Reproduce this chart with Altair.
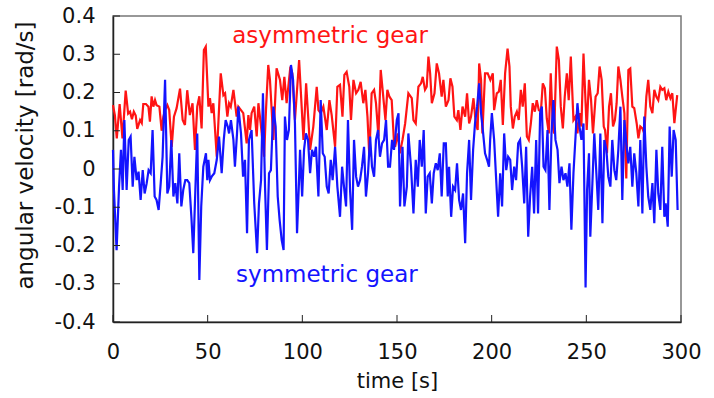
import altair as alt
import pandas as pd

# ---------------- data ----------------
x_ticks = [0, 50, 100, 150, 200, 250, 300]
y_ticks = [-0.4, -0.3, -0.2, -0.1, 0, 0.1, 0.2, 0.3, 0.4]
series_names = ["asymmetric gear", "symmetric gear"]
series_colors = ["#ff1414", "#1414ff"]

# (time [s], angular velocity [rad/s])
asym = [
    (0, 0.167), (1, 0.14), (2, 0.08), (3.5, 0.17), (5, 0.08), (6.7, 0.205), (8, 0.145), (9, 0.15),
    (10, 0.13), (11, 0.15), (12, 0.14), (12.8, 0.105), (14.3, 0.128), (15.2, 0.12), (16, 0.17),
    (17.4, 0.17), (18.7, 0.163), (19.5, 0.124), (20.4, 0.19), (21.3, 0.163), (22.2, 0.18), (23, 0.167),
    (24.5, 0.163), (25.7, 0.10), (26.6, 0.137), (27.5, 0.154), (28.7, 0.167), (29.7, 0.154), (31, 0.058),
    (32.2, 0.137), (33.6, 0.159), (35.4, 0.21), (36.8, 0.128), (38, 0.115), (39.2, 0.206), (40.6, 0.141),
    (42, 0.172), (43.3, 0.05), (44.5, 0.163), (45.6, 0.19), (46.8, 0.106), (48, 0.311), (49, 0.32),
    (50.4, 0.163), (51.2, 0.185), (52.1, 0.146), (53.0, 0.172), (54.8, 0.032), (56.9, 0.25), (58.3, 0.193),
    (59.2, 0.198), (60.4, 0.137), (61.3, 0.172), (62.2, 0.163), (63.6, 0.207), (65.3, 0.137), (66.2, 0.163),
    (67.6, 0.154), (68.8, 0.146), (70.6, 0.067), (71.5, 0.141), (72.4, 0.102), (73.2, 0.146), (74.6, 0.163),
    (75.9, 0.085), (76.8, 0.172), (78.0, 0.119), (79.8, 0.032), (80.8, 0.154), (82.0, 0.272), (82.9, 0.233),
    (84.7, 0.076), (86.4, 0.263), (88.2, 0.233), (89.4, 0.18), (90.5, 0.241), (91.7, 0.172), (93.7, 0.268),
    (94.7, 0.25), (96.1, 0.128), (98.3, 0.285), (100.6, 0.076), (102.0, 0.224), (103.2, 0.128), (104.1, 0.05),
    (105.8, 0.111), (107.6, 0.215), (108.5, 0.154), (109.7, 0.146), (111.1, 0.163), (112.9, 0.102),
    (114.3, 0.18), (115.5, 0.141), (117.3, 0.058), (118.5, 0.215), (119.9, 0.22), (121.2, 0.137),
    (122.2, 0.246), (123.4, 0.254), (124.8, 0.215), (125.7, 0.128), (127.0, 0.233), (128.4, 0.198),
    (129.6, 0.207), (130.8, 0.228), (132.2, 0.172), (133.3, 0.207), (134.4, 0.137), (135.4, 0.032),
    (136.6, 0.198), (137.9, 0.207), (138.9, 0.172), (140.2, 0.085), (141.4, 0.259), (142.4, 0.207),
    (143.9, 0.128), (144.9, 0.207), (146.0, 0.189), (147.2, 0.18), (148.4, 0.071), (149.0, 0.058),
    (150.4, 0.093), (151.5, 0.041), (152.9, 0.076), (154.3, 0.119), (156.0, 0.198), (157.8, 0.185),
    (158.7, 0.128), (159.9, 0.119), (161.3, 0.215), (162.7, 0.224), (163.6, 0.241), (164.8, 0.207),
    (165.7, 0.215), (166.6, 0.294), (167.5, 0.25), (168.4, 0.172), (169.8, 0.198), (171.0, 0.276),
    (172.2, 0.25), (173.6, 0.189), (174.5, 0.233), (175.8, 0.163), (177.2, 0.18), (178.2, 0.237),
    (179.3, 0.215), (180.3, 0.137), (181.6, 0.128), (182.4, 0.154), (183.5, 0.102), (184.6, 0.163),
    (186.0, 0.137), (187.0, 0.198), (188.1, 0.119), (189.1, 0.137), (190.4, 0.185), (191.6, 0.119),
    (192.6, 0.102), (193.4, 0.276), (194.4, 0.233), (195.1, 0.093), (196.5, 0.25), (197.9, 0.25),
    (199.3, 0.233), (200.6, 0.25), (201.3, 0.154), (202.7, 0.198), (203.8, 0.202), (204.8, 0.233),
    (205.9, 0.115), (207.1, 0.25), (208.4, 0.315), (209.4, 0.268), (210.1, 0.163), (211.2, 0.106),
    (212.2, 0.137), (213.3, 0.15), (214.3, 0.128), (215.4, 0.207), (216.4, 0.163), (217.5, 0.224),
    (218.6, 0.085), (219.6, 0.076), (220.7, 0.119), (221.7, 0.172), (222.8, 0.15), (223.8, 0.18),
    (224.9, 0.154), (226.0, 0.15), (227.0, 0.224), (228.1, 0.211), (229.1, 0.132), (230.2, 0.093),
    (231.2, 0.25), (232.3, 0.111), (233.0, 0.093), (234.4, 0.32), (235.5, 0.285), (236.5, 0.163),
    (237.6, 0.106), (238.6, 0.189), (239.7, 0.25), (240.7, 0.18), (241.8, 0.294), (243.2, 0.128),
    (244.3, 0.137), (245.3, 0.093), (246.4, 0.146), (247.4, 0.111), (248.5, 0.302), (250.2, 0.102),
    (251.4, 0.233), (252.5, 0.18), (253.5, 0.093), (254.9, 0.189), (256.0, 0.198), (257.0, 0.268),
    (258.1, 0.233), (259.2, 0.111), (259.9, 0.102), (260.9, 0.041), (262.0, 0.163), (263.0, 0.198),
    (264.1, 0.111), (265.1, 0.128), (266.0, 0.172), (266.9, 0.268), (268.0, 0.233), (269.0, 0.189),
    (270.1, 0.146), (271.1, -0.025), (272.2, 0.259), (273.2, 0.263), (274.3, 0.163), (275.3, 0.159),
    (276.6, 0.119), (277.5, 0.08), (278.5, 0.111), (279.6, 0.106), (280.6, 0.093), (281.7, 0.189),
    (282.7, 0.233), (283.8, 0.163), (284.9, 0.146), (285.9, 0.207), (287.0, 0.189), (288.0, 0.18),
    (289.1, 0.215), (290.1, 0.207), (291.2, 0.211), (292.2, 0.18), (293.3, 0.202), (294.4, 0.185),
    (295.4, 0.198), (296.5, 0.12), (298.0, 0.193),
]

sym = [
    (0, 0.05), (0.5, -0.055), (1.9, -0.212), (3.2, -0.046), (4.2, 0.05), (5.1, -0.055), (6.0, 0.128),
    (7.2, -0.055), (8.3, 0.076), (9.3, 0.085), (10.4, -0.046), (11.3, 0.032), (12.5, -0.029),
    (13.5, -0.007), (14.6, -0.081), (15.7, -0.003), (16.7, -0.064), (17.8, -0.037), (18.8, -0.003),
    (19.9, -0.011), (20.9, 0.102), (22.0, -0.072), (23.0, -0.081), (24.1, -0.107), (25.2, -0.037),
    (26.2, 0.032), (27.5, 0.233), (28.7, -0.064), (29.7, -0.046), (30.8, 0.076), (31.9, -0.072),
    (32.9, -0.037), (34.0, -0.09), (35.0, 0.041), (36.1, -0.098), (37.1, -0.055), (38.2, -0.029),
    (39.2, -0.029), (40.3, -0.037), (41.4, -0.125), (42.4, -0.22), (43.5, -0.055), (44.5, 0.093),
    (45.6, -0.29), (46.6, -0.098), (47.7, 0.006), (49.1, 0.041), (49.8, -0.029), (50.4, 0.024),
    (51.2, -0.029), (52.1, -0.02), (53.5, -0.011), (54.8, 0.024), (56.0, 0.085), (57.4, -0.011),
    (58.5, 0.076), (59.5, 0.128), (60.6, 0.111), (61.3, 0.093), (62.3, 0.128), (63.6, 0.076),
    (64.4, 0.006), (65.5, 0.093), (66.2, 0.163), (67.6, 0.093), (68.7, -0.02), (69.7, 0.024),
    (70.8, -0.168), (71.8, 0.076), (73.2, 0.102), (74.6, -0.09), (76.1, -0.22), (77.1, -0.09),
    (78.2, -0.029), (79.2, 0.198), (80.3, -0.046), (81.3, -0.212), (82.4, -0.011), (83.4, -0.003),
    (84.7, 0.163), (85.9, 0.111), (87.0, -0.072), (88.0, -0.133), (89.1, -0.186), (90.1, -0.212),
    (90.8, 0.137), (91.9, 0.076), (92.9, 0.102), (94.0, 0.272), (95.1, 0.233), (96.1, 0.119),
    (97.2, -0.168), (98.2, -0.037), (98.8, 0.05), (99.9, -0.072), (100.9, 0.05), (101.9, 0.093),
    (103.0, 0.076), (104.1, -0.011), (105.1, 0.05), (106.2, 0.032), (107.2, 0.058), (108.5, -0.072),
    (109.7, 0.18), (110.8, 0.041), (111.8, 0.032), (112.9, -0.046), (113.9, -0.064), (115.0, 0.024),
    (116.0, -0.029), (117.3, 0.058), (118.5, -0.046), (119.9, -0.125), (121.0, 0.006), (122.0, -0.046),
    (123.1, -0.098), (124.1, 0.128), (125.2, -0.055), (126.3, -0.159), (127.3, 0.076), (128.4, -0.02),
    (129.4, -0.046), (130.5, -0.029), (131.5, 0.006), (132.6, 0.058), (133.6, -0.072), (134.7, -0.011),
    (135.8, 0.085), (136.8, 0.006), (137.9, -0.02), (138.9, 0.076), (140.0, 0.102), (141.0, 0.032),
    (142.1, 0.067), (143.2, 0.076), (144.2, 0.128), (145.3, 0.006), (146.3, 0.006), (147.4, 0.076),
    (148.4, 0.05), (149.0, 0.076), (149.9, 0.128), (150.8, 0.146), (151.6, -0.098), (152.9, 0.058),
    (153.9, -0.098), (155.2, -0.046), (156.0, 0.093), (157.4, 0.006), (158.7, -0.116), (159.9, 0.024),
    (161.0, -0.046), (162.0, 0.076), (163.1, 0.006), (164.1, 0.102), (165.2, -0.116), (166.2, -0.02),
    (167.3, -0.011), (168.4, -0.09), (169.4, -0.011), (170.5, 0.015), (171.5, -0.003), (172.6, 0.041),
    (173.6, -0.072), (174.7, 0.067), (175.8, 0.067), (176.8, -0.072), (177.5, 0.006), (178.6, -0.125),
    (179.6, -0.046), (180.7, -0.055), (181.7, 0.015), (182.8, -0.081), (183.8, -0.107), (184.9, -0.064),
    (186.0, -0.194), (187.0, -0.011), (188.1, 0.076), (189.1, -0.081), (190.2, 0.05), (191.2, 0.119),
    (192.3, 0.163), (193.4, 0.224), (194.4, 0.146), (195.5, 0.093), (196.5, 0.041), (197.6, 0.024),
    (198.6, 0.006), (199.2, 0.076), (200.1, 0.146), (201.3, 0.076), (202.4, -0.029), (203.4, -0.125),
    (204.5, -0.011), (205.5, -0.098), (206.6, 0.093), (207.7, -0.003), (208.7, 0.032), (209.8, 0.024),
    (210.8, -0.055), (211.9, 0.006), (212.9, -0.029), (214.0, 0.067), (215.0, 0.076), (216.1, 0.006),
    (217.2, -0.09), (218.2, 0.058), (219.3, -0.177), (220.3, -0.072), (221.4, 0.006), (222.4, -0.116),
    (223.5, 0.076), (224.5, -0.116), (225.6, 0.146), (226.5, 0.163), (227.4, 0.006), (228.4, -0.003),
    (229.5, 0.102), (230.5, -0.107), (231.6, 0.093), (232.6, 0.18), (233.7, 0.076), (234.8, 0.05),
    (235.8, -0.037), (236.9, 0.006), (237.9, -0.029), (239.0, -0.011), (240.0, -0.046), (241.1, 0.015),
    (242.1, -0.159), (243.2, -0.011), (244.3, 0.085), (245.3, 0.172), (246.4, 0.111), (247.4, 0.076),
    (248.5, 0.119), (249.6, -0.31), (250.4, -0.055), (251.4, 0.041), (252.1, -0.177), (253.2, -0.037),
    (254.2, 0.093), (255.3, -0.011), (256.3, -0.107), (257.4, 0.093), (258.5, -0.142), (259.5, 0.076),
    (260.6, 0.05), (261.6, -0.02), (262.7, -0.046), (263.7, 0.076), (264.8, -0.003), (265.8, -0.029),
    (266.9, 0.05), (268.0, 0.163), (269.0, -0.081), (270.1, 0.128), (271.1, 0.067), (272.2, 0.015),
    (273.2, 0.058), (274.3, -0.046), (275.3, 0.041), (276.4, -0.011), (277.5, -0.098), (278.5, 0.076),
    (279.6, -0.116), (280.6, 0.137), (281.7, 0.006), (282.7, -0.072), (283.8, -0.107), (284.9, -0.037),
    (285.9, -0.142), (287.0, 0.05), (288.0, -0.064), (289.1, -0.107), (290.1, 0.058), (291.2, -0.125),
    (291.9, -0.09), (293.0, -0.151), (294.0, 0.111), (295.1, -0.02), (296.1, 0.102), (297.2, 0.076),
    (298.2, -0.107),
]

# in-plot labels: (text, time, velocity)
annotations = [("asymmetric gear", 63.0, 0.348), ("symmetric gear", 65.0, -0.277)]

# ---------------- build chart ----------------
FONT = "DejaVu Sans"
W, H = 568, 306

df_asym = pd.DataFrame(asym, columns=["time", "w"]).assign(gear=series_names[0])
df_sym = pd.DataFrame(sym, columns=["time", "w"]).assign(gear=series_names[1])
df_ann = pd.DataFrame(annotations, columns=["gear", "time", "w"])
df_xt = pd.DataFrame({"time": x_ticks})
df_yt = pd.DataFrame({"w": y_ticks})

xscale = alt.Scale(domain=[0, 300], nice=False, zero=False)
yscale = alt.Scale(domain=[-0.4, 0.4], nice=False, zero=False)
cscale = alt.Scale(domain=series_names, range=series_colors)

x_axis = alt.Axis(values=x_ticks, title="time [s]", tickSize=0, grid=False,
                  labelPadding=19, titlePadding=8, labelFlush=False, labelOverlap=False)
y_axis = alt.Axis(values=y_ticks, title="angular velocity [rad/s]", tickSize=0, grid=False,
                  labelPadding=18, labelOverlap=False, labelFlush=False, titleFontSize=23,
                  labelExpr="abs(datum.value) < 1e-9 ? '0' : (datum.value < 0 ? '-' : '') + format(abs(datum.value), '.1f')",
                  titleX=-88, titleY=139, titleBaseline="middle", titleAlign="center")

X = alt.X("time:Q", scale=xscale, axis=x_axis)
Y = alt.Y("w:Q", scale=yscale, axis=y_axis)
C = alt.Color("gear:N", scale=cscale, legend=None)

lines_asym = alt.Chart(df_asym).mark_line(strokeWidth=2.2).encode(x=X, y=Y, color=C)
lines_sym = alt.Chart(df_sym).mark_line(strokeWidth=2.2).encode(x=X, y=Y, color=C)

xticks_in = alt.Chart(df_xt).mark_rule(color="#222", strokeWidth=1).encode(
    x=X, y=alt.value(H), y2=alt.value(H - 7))
yticks_in = alt.Chart(df_yt).mark_rule(color="#222", strokeWidth=1).encode(
    y=Y, x=alt.value(0), x2=alt.value(7))

labels = alt.Chart(df_ann).mark_text(align="left", baseline="middle", font=FONT, fontSize=23).encode(
    x=X, y=Y, text="gear:N", color=C)

chart = alt.layer(lines_asym, lines_sym, xticks_in, yticks_in, labels).properties(
    width=W, height=H,
    autosize=alt.AutoSizeParams(type="none"),
    padding={"left": 113, "top": 16, "right": 33, "bottom": 76},
    background="white",
).configure_view(
    stroke="#777", strokeWidth=1.5
).configure_axis(
    domainColor="#222", domainWidth=1.5,
    labelFont=FONT, labelFontSize=21, labelColor="#111",
    titleFont=FONT, titleFontSize=21, titleFontWeight="normal", titleColor="#111",
)

chart.save("out.html", embed_options={"renderer": "svg", "actions": False})
